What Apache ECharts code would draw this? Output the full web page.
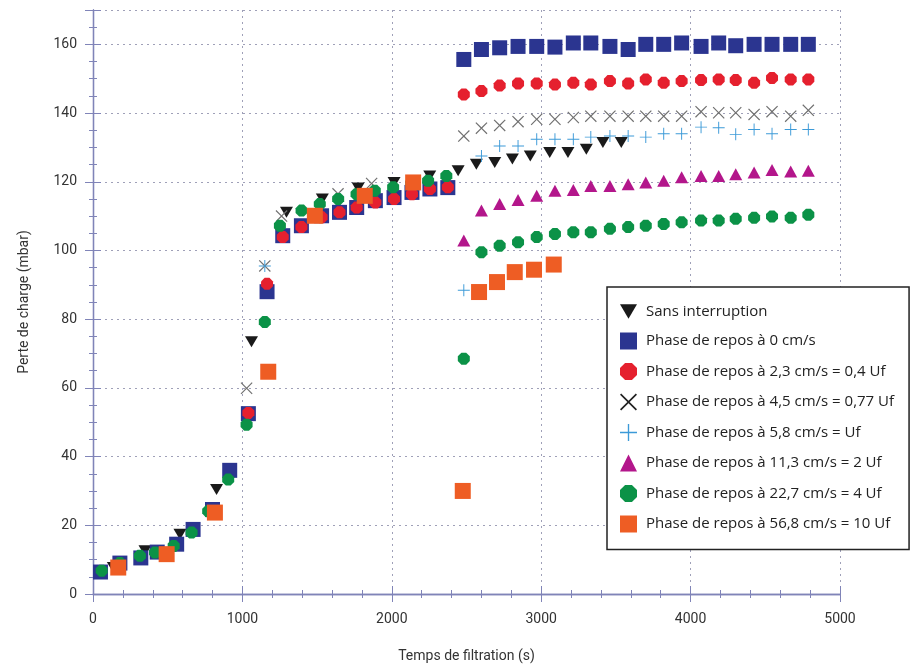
<!DOCTYPE html>
<html><head><meta charset="utf-8">
<script src="https://cdn.jsdelivr.net/npm/echarts@6/dist/echarts.min.js"></script>
<style>html,body{margin:0;padding:0;background:#fff}#c{width:913px;height:668px}</style>
</head><body><div id="c"></div>
<script>
// ---- data ----
const seriesNames = [
  'Sans interruption',
  'Phase de repos à 0 cm/s',
  'Phase de repos à 2,3 cm/s = 0,4 Uf',
  'Phase de repos à 4,5 cm/s = 0,77 Uf',
  'Phase de repos à 5,8 cm/s = Uf',
  'Phase de repos à 11,3 cm/s = 2 Uf',
  'Phase de repos à 22,7 cm/s = 4 Uf',
  'Phase de repos à 56,8 cm/s = 10 Uf'
];
const tEarly = [50,180,320,430,560,670,800,915,1040,1165,1270,1395,1530,1650,1765,1890,2015,2135,2255,2375];
const tLate  = [2482,2600,2722,2845,2970,3092,3215,3332,3460,3582,3700,3820,3940,4070,4188,4302,4425,4545,4670,4788];

const tBlack = [136,348,582,827,1061,1295,1535,1775,2015,2254,2444,2566,2689,2807,2927,3057,3179,3302,3413,3536];
const yBlack = [7.7,12.6,17.4,30.4,73.4,111.1,115.0,118.2,119.8,121.7,123.2,125.1,125.6,126.6,127.5,128.5,128.5,129.5,131.4,131.4];

const yBlueEarly = [6.4,9.0,10.5,12.2,14.5,18.8,24.6,36.0,52.5,88.0,104.3,107.2,110.1,111.1,112.5,114.5,115.4,116.9,117.9,118.3];
const yBlueLate  = [155.6,158.5,159.0,159.4,159.4,159.2,160.4,160.4,159.4,158.5,160.0,160.0,160.4,159.4,160.4,159.6,160.0,160.0,160.0,160.0];

const tRedEarly = [1040,1165,1270,1395,1530,1650,1765,1890,2015,2135,2255,2375];
const yRedEarly = [52.7,90.3,103.9,106.8,109.7,111.1,112.5,114.0,115.0,116.4,117.9,118.4];
const yRedLate  = [145.4,146.4,148.0,148.6,148.6,148.3,148.8,148.3,149.3,148.6,149.8,148.8,149.3,149.6,149.8,149.6,148.8,150.2,149.8,149.8];

const tCrossEarly = [1028,1150,1262,1640,1865];
const yCrossEarly = [59.9,95.5,110.0,116.5,119.5];
const yCrossLate  = [133.3,135.6,136.4,137.5,138.2,138.2,138.7,139.1,139.1,139.1,139.1,139.1,139.1,140.4,140.1,140.1,139.6,140.4,139.1,140.8];

const tPlusEarly = [1150];
const yPlusEarly = [95.5];
const yPlusLate  = [88.4,127.5,130.4,130.4,132.4,132.4,132.4,133.0,133.3,133.3,133.0,134.0,134.0,135.9,135.7,133.8,135.2,134.0,135.2,135.2];

const yMagentaLate = [102.9,111.6,113.5,114.7,115.9,117.4,117.6,118.8,118.8,119.3,119.8,120.3,121.3,121.7,121.7,122.2,122.7,123.4,123.0,123.2];

const tGreenEarly = [58,180,314,415,540,660,771,905,1028,1150,1251,1396,1518,1641,1764,1886,2009,2130,2243,2365];
const yGreenEarly = [6.8,9.0,11.1,12.1,14.0,17.9,24.1,33.3,49.3,79.2,107.2,111.6,113.5,115.0,116.4,117.4,118.4,119.5,120.3,121.7];
const yGreenLate  = [68.5,99.5,101.4,102.4,103.9,104.8,105.3,105.3,106.3,106.8,107.2,107.7,108.2,108.7,108.7,109.2,109.5,109.9,109.5,110.4];

const tOrange = [169,493,816,1173,1485,1819,2143,2475,2584,2704,2823,2952,3084];
const yOrange = [7.7,11.6,23.7,64.7,110.1,115.9,119.8,30.0,87.9,90.8,93.7,94.4,95.9];

// ---- helpers ----
const zip = (t, y) => t.map((v, i) => [v, y[i]]);
const FONT = 'Roboto';
const LFONT = 'Open Sans';
const AX = '#8084b8';

const symTriDown = 'path://M0,0 L100,0 L50,86 Z';
const symOct = 'path://M30,0 L70,0 L100,30 L100,70 L70,100 L30,100 L0,70 L0,30 Z';
const symX = 'path://M0,7 L7,0 L50,43 L93,0 L100,7 L57,50 L100,93 L93,100 L50,57 L7,100 L0,93 L43,50 Z';
const symPlus = 'path://M46,0 L54,0 L54,46 L100,46 L100,54 L54,54 L54,100 L46,100 L46,54 L0,54 L0,46 L46,46 Z';

const seriesDefs = [
  {data: zip(tBlack, yBlack), symbol: symTriDown, size: [13,11], color: '#1a1a1a'},
  {data: zip(tEarly.concat(tLate), yBlueEarly.concat(yBlueLate)), symbol: 'rect', size: 15, color: '#2b3590'},
  {data: zip(tRedEarly.concat(tLate), yRedEarly.concat(yRedLate)), symbol: symOct, size: 12, color: '#e5202e'},
  {data: zip(tCrossEarly.concat(tLate), yCrossEarly.concat(yCrossLate)), symbol: symX, size: 12, color: '#707070'},
  {data: zip(tPlusEarly.concat(tLate), yPlusEarly.concat(yPlusLate)), symbol: symPlus, size: 12, color: '#3c9ad8'},
  {data: zip(tLate, yMagentaLate), symbol: 'triangle', size: [13,12], color: '#b3168b'},
  {data: zip(tGreenEarly.concat(tLate), yGreenEarly.concat(yGreenLate)), symbol: symOct, size: 12, color: '#0b9247'},
  {data: zip(tOrange, yOrange), symbol: 'rect', size: 16, color: '#ee5d24'}
];
const legendColors = ['#1a1a1a','#2b3590','#e5202e','#222222','#3c9ad8','#b3168b','#0b9247','#ee5d24'];

const axisCommon = {
  axisLine: {show: true, lineStyle: {color: AX, width: 1.3}},
  axisTick: {show: true, inside: true, length: 8, lineStyle: {color: AX}},
  minorTick: {show: true, length: 4, lineStyle: {color: AX}},
};
const plain = v => String(v);

const chart = echarts.init(document.getElementById('c'), null, {renderer: 'canvas'});
chart.setOption({
  animation: false,
  backgroundColor: '#fff',
  textStyle: {fontFamily: FONT},
  grid: {left: 93, right: 73, top: 10, bottom: 73, containLabel: false},
  legend: {
    orient: 'vertical', left: 607, top: 287,
    backgroundColor: '#fff', borderColor: '#222', borderWidth: 1.5,
    padding: [17, 15, 17, 13], itemGap: 13.5, itemWidth: 17, itemHeight: 17,
    textStyle: {fontSize: 15, color: '#222', fontFamily: LFONT, padding: [0,0,0,4]},
    data: seriesNames.map((n, i) => ({name: n, itemStyle: {color: legendColors[i]}})),
    z: 10
  },
  xAxis: [
    Object.assign({}, axisCommon, {
      type: 'value', min: 0, max: 5000, interval: 1000, position: 'bottom',
      minorTick: Object.assign({}, axisCommon.minorTick, {splitNumber: 5}),
      splitLine: {show: true, lineStyle: {color: '#9fa0b8', type: [2, 4], width: 1}},
      axisLabel: {color: '#333', fontSize: 14, margin: 18, fontFamily: FONT, formatter: plain},
      name: 'Temps de filtration (s)', nameLocation: 'middle', nameGap: 55,
      nameTextStyle: {fontSize: 14, color: '#333', fontFamily: FONT}
    }),
    Object.assign({}, axisCommon, {
      type: 'value', min: 0, max: 5000, interval: 1000, position: 'top',
      minorTick: Object.assign({}, axisCommon.minorTick, {splitNumber: 5}),
      splitLine: {show: false}, axisLabel: {show: false}
    })
  ],
  yAxis: [
    Object.assign({}, axisCommon, {
      type: 'value', min: 0, max: 170, interval: 20, position: 'left',
      minorTick: Object.assign({}, axisCommon.minorTick, {splitNumber: 4}),
      splitLine: {show: true, lineStyle: {color: '#9fa0b8', type: [2, 4], width: 1}},
      axisLabel: {color: '#333', fontSize: 14, margin: 16, fontFamily: FONT, showMaxLabel: false, formatter: plain},
      name: 'Perte de charge (mbar)', nameLocation: 'middle', nameGap: 62,
      nameTextStyle: {fontSize: 14, color: '#333', fontFamily: FONT}
    }),
    Object.assign({}, axisCommon, {
      type: 'value', min: 0, max: 170, interval: 20, position: 'right',
      minorTick: Object.assign({}, axisCommon.minorTick, {splitNumber: 4}),
      splitLine: {show: false}, axisLabel: {show: false}
    })
  ],
  series: seriesDefs.map((d, i) => ({
    name: seriesNames[i], type: 'scatter', xAxisIndex: 0, yAxisIndex: 0,
    symbol: d.symbol, symbolSize: d.size,
    itemStyle: {color: d.color, opacity: 1},
    data: d.data, z: 2 + i * 0.01
  }))
});
</script>
</body></html>
